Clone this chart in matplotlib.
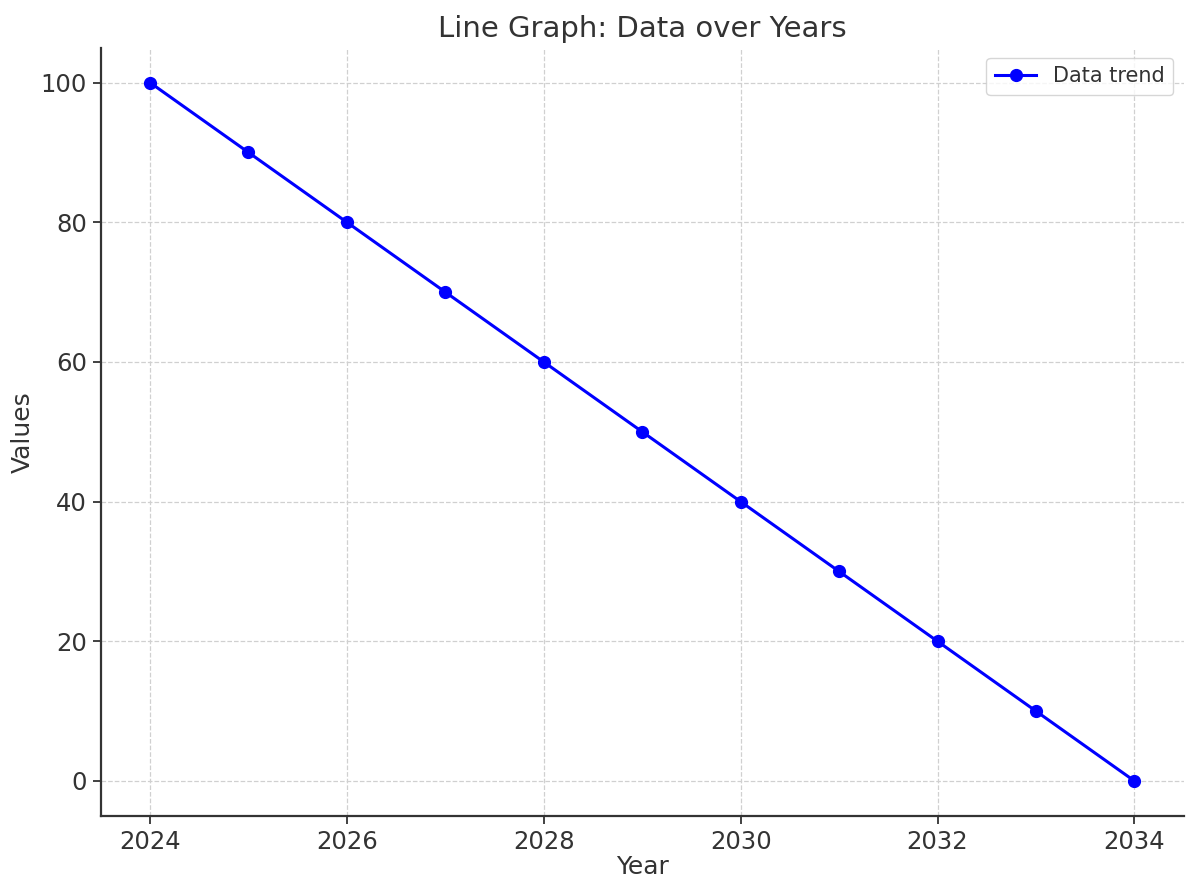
import numpy as np
import matplotlib.pyplot as plt

# data
years = [2024, 2025, 2026, 2027, 2028, 2029, 2030, 2031, 2032, 2033, 2034]
values = [100, 90, 80, 70, 60, 50, 40, 30, 20, 10, 0]

plt.rcParams['font.family'] = ['DejaVu Sans']
plt.rcParams['text.color'] = '#333333'
plt.rcParams['axes.labelcolor'] = '#333333'
plt.rcParams['xtick.color'] = '#333333'
plt.rcParams['ytick.color'] = '#333333'

fig, ax = plt.subplots(figsize=(11.86, 8.83), dpi=100)
fig.subplots_adjust(left=0.085, right=0.998, top=0.946, bottom=0.076)

ax.plot(years, values, marker='o', color='blue', linewidth=2.2, markersize=8.5,
        label='Data trend')

ax.set_title('Line Graph: Data over Years', fontsize=21, pad=8)
ax.set_xlabel('Year', fontsize=18, labelpad=1)
ax.set_ylabel('Values', fontsize=18, labelpad=4)
ax.tick_params(labelsize=17.5, length=6, width=1.3, pad=4)

ax.set_xlim(2023.5, 2034.5)
ax.set_ylim(-5, 105)
ax.set_xticks(range(2024, 2035, 2))
ax.set_yticks(range(0, 101, 20))

ax.grid(True, linestyle='--', color='#d0d0d0', linewidth=0.9)
ax.spines['top'].set_visible(False)
ax.spines['right'].set_visible(False)
ax.spines['left'].set_color('#333333')
ax.spines['bottom'].set_color('#333333')
ax.spines['left'].set_linewidth(1.6)
ax.spines['bottom'].set_linewidth(1.6)

ax.legend(loc='upper right', fontsize=15)

fig.savefig('out.png', dpi=100)
